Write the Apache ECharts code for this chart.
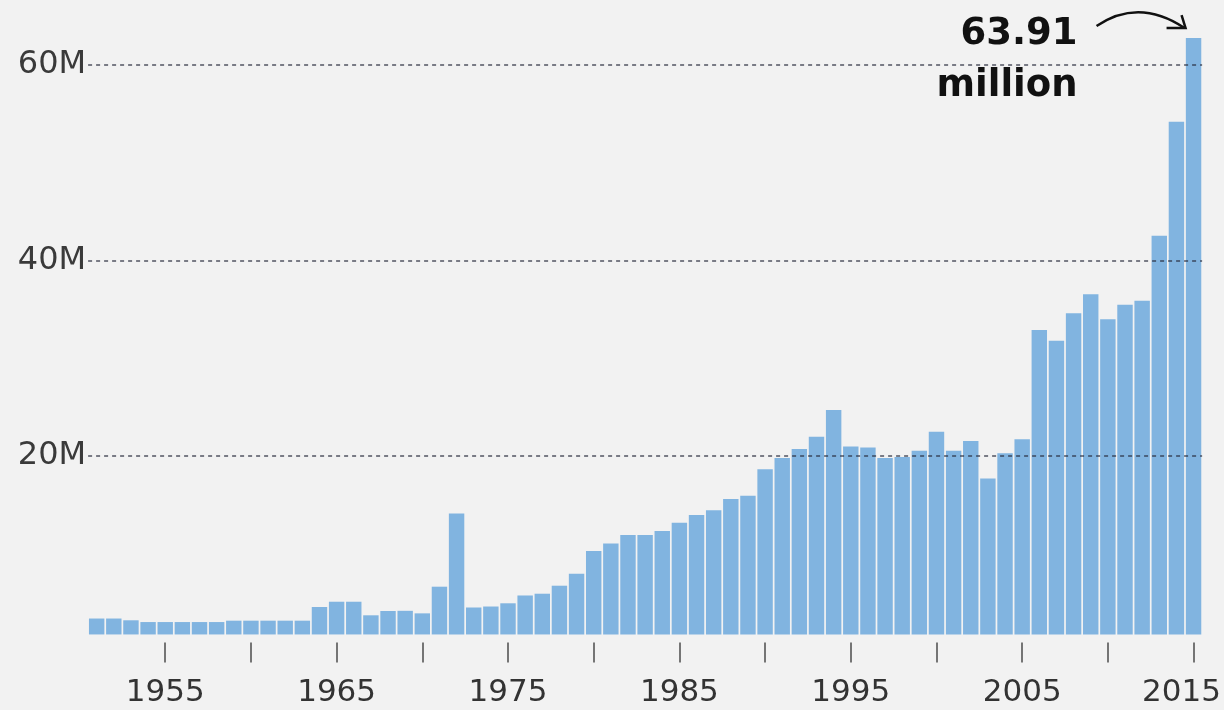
<!DOCTYPE html>
<html><head><meta charset="utf-8">
<script src="https://cdn.jsdelivr.net/npm/echarts@6/dist/echarts.min.js"></script>
<style>html,body{margin:0;padding:0;background:#f2f2f2}#c{width:1224px;height:710px}</style>
</head><body><div id="c"></div>
<script>
const years = ['1951','1952','1953','1954','1955','1956','1957','1958','1959','1960',
  '1961','1962','1963','1964','1965','1966','1967','1968','1969','1970',
  '1971','1972','1973','1974','1975','1976','1977','1978','1979','1980',
  '1981','1982','1983','1984','1985','1986','1987','1988','1989','1990',
  '1991','1992','1993','1994','1995','1996','1997','1998','1999','2000',
  '2001','2002','2003','2004','2005','2006','2007','2008','2009','2010',
  '2011','2012','2013','2014','2015'];
// values in millions
const values = [3.33,3.33,3.15,2.97,2.97,2.97,2.97,2.97,3.11,3.11,
  3.11,3.11,3.11,4.51,5.05,5.05,3.66,4.10,4.12,3.86,
  6.59,14.08,4.46,4.56,4.89,5.69,5.87,6.69,7.92,10.24,
  11.01,11.88,11.88,12.29,13.14,13.93,14.41,15.57,15.90,18.61,
  19.76,20.69,21.95,24.68,20.94,20.84,19.76,19.87,20.51,22.46,
  20.51,21.50,17.67,20.25,21.68,32.87,31.77,34.58,36.52,33.96,
  35.46,35.87,42.52,54.19,62.76];
const yTickValues = [20, 40, 60];
const labelYears = ['1955','1965','1975','1985','1995','2005','2015'];
const annotation = ['63.91', 'million'];

const chart = echarts.init(document.getElementById('c'), null, {renderer: 'canvas'});
const option = {
  backgroundColor: '#f2f2f2',
  animation: false,
  grid: {left: 88.1, right: 21.1, top: 6.4, bottom: 75.55, containLabel: false},
  xAxis: {
    type: 'category',
    data: years,
    offset: 8,
    axisLine: {show: false},
    axisTick: {
      show: true, alignWithLabel: true, length: 20,
      interval: (i, v) => Number(v) % 5 === 0,
      lineStyle: {color: '#555', width: 1.6}
    },
    axisLabel: {
      interval: (i, v) => labelYears.indexOf(v) >= 0,
      margin: 35,
      color: '#333',
      fontFamily: 'DejaVu Sans',
      fontSize: 31,
      formatter: v => v === '2015' ? '{last|' + v + '}' : v,
      rich: {last: {fontFamily: 'DejaVu Sans', fontSize: 31, color: '#333', padding: [0, 24, 0, 0]}}
    },
    splitLine: {show: false}
  },
  yAxis: {
    type: 'value',
    min: 1.7,
    max: 66,
    splitNumber: 3,
    minInterval: 20,
    maxInterval: 20,
    z: 5,
    axisLine: {show: false},
    axisTick: {show: false},
    axisLabel: {
      showMinLabel: false, showMaxLabel: false,
      margin: 2,
      color: '#3a3a3a',
      fontFamily: 'DejaVu Sans',
      fontSize: 32,
      formatter: v => yTickValues.indexOf(v) >= 0 ? v + 'M' : ''
    },
    splitLine: {
      show: true, showMinLine: false, showMaxLine: false,
      lineStyle: {color: 'rgba(40,44,60,0.8)', width: 1.5, type: [4, 4]}
    }
  },
  series: [{
    type: 'bar',
    data: values,
    barCategoryGap: '10%',
    itemStyle: {color: '#81b4e0'},
    z: 2
  }]
};
chart.setOption(option);

const p = chart.convertToPixel({seriesIndex: 0}, [years.length - 1, values[values.length - 1]]);
const tx = p[0] - 116, ty = p[1];
chart.setOption({
  graphic: [
    {type: 'text', x: tx, y: ty - 4, style: {text: annotation[0], fill: '#111', font: 'bold 37px "DejaVu Sans"', align: 'right', verticalAlign: 'middle'}},
    {type: 'text', x: tx, y: ty + 48, style: {text: annotation[1], fill: '#111', font: 'bold 37px "DejaVu Sans"', align: 'right', verticalAlign: 'middle'}},
    {type: 'bezierCurve', shape: {x1: tx + 19, y1: ty - 12, x2: p[0] - 9, y2: ty - 10, cpx1: tx + 50, cpy1: ty - 33, cpx2: tx + 80, cpy2: ty - 28}, style: {stroke: '#111', lineWidth: 2.5, fill: null}},
    {type: 'polyline', shape: {points: [[p[0] - 27, ty - 10], [p[0] - 8, ty - 10], [p[0] - 12, ty - 23]]}, style: {stroke: '#111', lineWidth: 2.5, fill: null}}
  ]
});
</script>
</body></html>
